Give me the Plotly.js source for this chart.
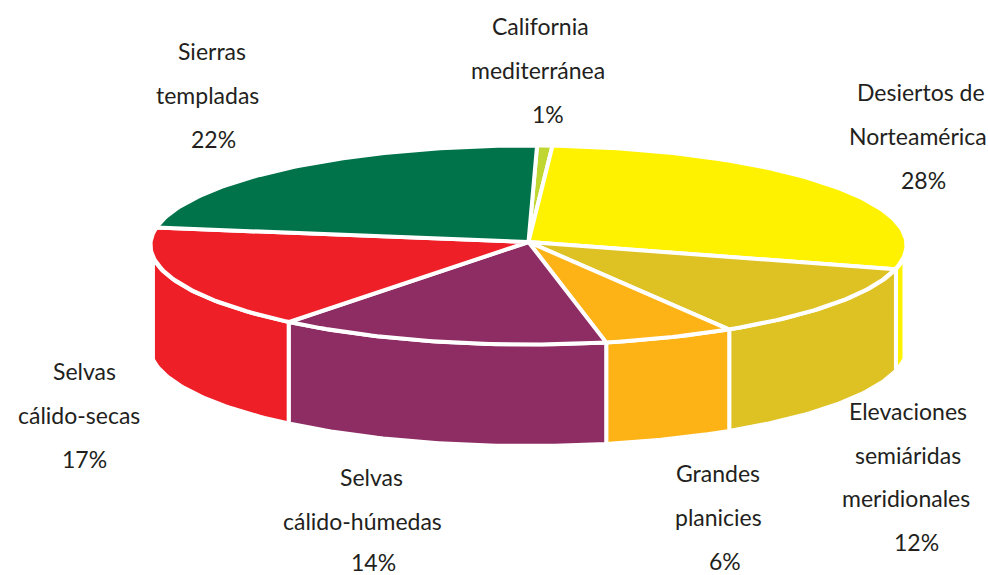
<!DOCTYPE html>
<html><head><meta charset="utf-8">
<script src="https://cdn.plot.ly/plotly-3.0.1.min.js"></script>
<style>html,body{margin:0;padding:0;background:#fff}</style></head>
<body><div id="chart" style="width:988px;height:575px"></div>
<script>
var categories = ["California mediterránea","Desiertos de Norteamérica","Elevaciones semiáridas meridionales","Grandes planicies","Selvas cálido-húmedas","Selvas cálido-secas","Sierras templadas"];
var shares = [1,28,12,6,14,17,22];
// shares as the slices are actually drawn in the picture (read from the arcs)
var drawnShares = [0.65,27.9,12.2,5.6,14.2,16.9,22.55];
var sliceColors = ["#BFD730","#FFF200","#DEC122","#FDB316","#8E2D64","#EE1F27","#00734A"];
var labelNames = [
 ["California","mediterránea"],
 ["Desiertos de","Norteamérica"],
 ["Elevaciones","semiáridas","meridionales"],
 ["Grandes","planicies"],
 ["Selvas","cálido-húmedas"],
 ["Selvas","cálido-secas"],
 ["Sierras","templadas"]
];
var labelX = [[540,538,548],[921,918,923],[908,908,906,916],[718,718,725],[371,362,373],[84,79,84],[212,207,213]];
var labelY = [[26,70,114],[92,136,180],[411,455,498,542],[473,517,561],[477,521,562],[371,415,459],[51,95,139]];

// projection of the disc
var cx=528.5, cy=245, rx=378, ry=99.5, depth=101.5, startDeg=1.3, wallFrom=97, wallTo=262.5, wallOut=0.8;
function px(t,extra){return cx+(rx+(extra||0))*Math.sin(t*Math.PI/180);}
function py(t){return cy-ry*Math.cos(t*Math.PI/180);}
function arc(a,b){var n=Math.max(2,Math.ceil(Math.abs(b-a))),o=[];for(var i=0;i<=n;i++)o.push(a+(b-a)*i/n);return o;}

var edges=[startDeg];
drawnShares.forEach(function(v,i){edges.push(edges[i]+v*3.6);});
var traces=[];
function poly(xs,ys,c){traces.push({type:"scatter",mode:"lines",x:xs,y:ys,fill:"toself",fillcolor:c,
  line:{color:"#fff",width:4},hoverinfo:"skip",showlegend:false});}
// side walls
drawnShares.forEach(function(v,i){
  var a=Math.max(edges[i],wallFrom), b=Math.min(edges[i+1],wallTo);
  if(b<=a) return;
  var ts=arc(a,b), back=ts.slice().reverse();
  var xs=ts.map(function(t){return px(t,wallOut);}), ys=ts.map(py);
  xs=xs.concat(back.map(function(t){return px(t,wallOut);}),[xs[0]]);
  ys=ys.concat(back.map(function(t){return py(t)+depth;}),[ys[0]]);
  poly(xs,ys,sliceColors[i]);
});
// top wedges
drawnShares.forEach(function(v,i){
  var ts=arc(edges[i],edges[i+1]);
  poly([cx].concat(ts.map(function(t){return px(t);}),[cx]),[cy-3].concat(ts.map(py),[cy-3]),sliceColors[i]);
});
var annotations=[];
labelNames.forEach(function(names,i){
  names.concat([shares[i]+"%"]).forEach(function(s,j){
    annotations.push({xref:"x",yref:"y",x:labelX[i][j],y:labelY[i][j],text:s,showarrow:false,
      xanchor:"center",yanchor:"middle",font:{family:"Lato, sans-serif",size:23,color:"#231F20"}});
  });
});
Plotly.newPlot("chart",traces,{
  width:988,height:575,margin:{l:0,r:0,t:0,b:0},paper_bgcolor:"#fff",plot_bgcolor:"#fff",
  xaxis:{range:[0,988],visible:false,fixedrange:true},
  yaxis:{range:[575,0],visible:false,fixedrange:true},
  annotations:annotations,showlegend:false
},{staticPlot:true});
</script></body></html>
